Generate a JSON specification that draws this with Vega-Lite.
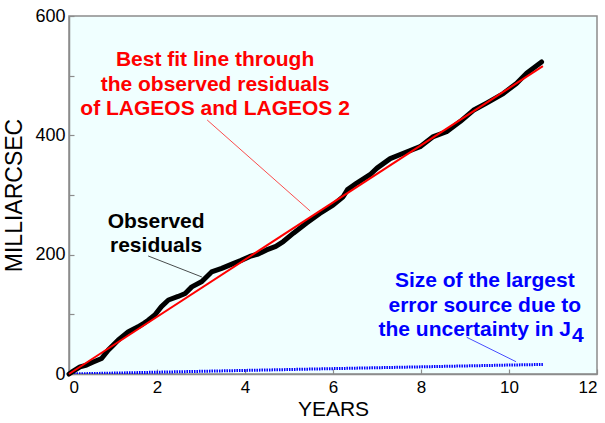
{
  "$schema": "https://vega.github.io/schema/vega-lite/v6.json",
  "width": 528,
  "height": 358,
  "autosize": {"type": "none"},
  "padding": {"left": 69, "top": 16, "right": 8, "bottom": 49},
  "background": "white",
  "config": {
    "view": {"fill": "#f0ffff", "stroke": "#8c8c8c", "strokeWidth": 1.5},
    "font": "Liberation Sans",
    "axis": {
      "grid": false,
      "domainColor": "#8c8c8c",
      "domainWidth": 1.5,
      "tickColor": "#8c8c8c",
      "tickWidth": 1.2,
      "labelFont": "Liberation Sans",
      "titleFont": "Liberation Sans",
      "labelColor": "black",
      "titleColor": "black",
      "labelFontSize": 18,
      "titleFontSize": 21,
      "titleFontWeight": "normal"
    }
  },
  "datasets": {
    "obs": [
      {"t": 0, "v": 0}, {"t": 0.06, "v": 3}, {"t": 0.25, "v": 12}, {"t": 0.4, "v": 15}, {"t": 0.55, "v": 20},
      {"t": 0.74, "v": 26}, {"t": 0.89, "v": 40}, {"t": 1.0, "v": 48}, {"t": 1.12, "v": 57}, {"t": 1.35, "v": 71},
      {"t": 1.57, "v": 79}, {"t": 1.7, "v": 85}, {"t": 1.8, "v": 90}, {"t": 1.95, "v": 99}, {"t": 2.1, "v": 113},
      {"t": 2.26, "v": 124}, {"t": 2.48, "v": 130}, {"t": 2.64, "v": 135}, {"t": 2.79, "v": 146},
      {"t": 3.02, "v": 155}, {"t": 3.24, "v": 171}, {"t": 3.47, "v": 177}, {"t": 3.73, "v": 185},
      {"t": 3.9, "v": 190}, {"t": 4.11, "v": 197}, {"t": 4.3, "v": 201}, {"t": 4.49, "v": 208}, {"t": 4.7, "v": 214},
      {"t": 4.87, "v": 222}, {"t": 5.1, "v": 236},
      {"t": 5.4, "v": 253}, {"t": 5.7, "v": 269}, {"t": 6.0, "v": 283}, {"t": 6.23, "v": 297},
      {"t": 6.33, "v": 309}, {"t": 6.54, "v": 320}, {"t": 6.84, "v": 334}, {"t": 7.0, "v": 345},
      {"t": 7.3, "v": 361}, {"t": 7.6, "v": 370}, {"t": 7.98, "v": 381}, {"t": 8.28, "v": 398},
      {"t": 8.58, "v": 406}, {"t": 8.89, "v": 423}, {"t": 9.19, "v": 442}, {"t": 9.49, "v": 454},
      {"t": 9.87, "v": 470}, {"t": 10.17, "v": 487}, {"t": 10.4, "v": 504}, {"t": 10.74, "v": 523}
    ],
    "fit": [{"t": 0, "v": 0}, {"t": 10.77, "v": 516}],
    "j4": [
      {"t": 0, "v": 0}, {"t": 1, "v": 1.5}, {"t": 2, "v": 3}, {"t": 3, "v": 4.5},
      {"t": 4, "v": 6}, {"t": 5, "v": 7.5}, {"t": 6, "v": 9}, {"t": 7, "v": 10.5},
      {"t": 8, "v": 12}, {"t": 9, "v": 13.5}, {"t": 10, "v": 15}, {"t": 10.77, "v": 16}
    ],
    "leaders": [
      {"x1": 3.14, "y1": 425.7, "x2": 5.48, "y2": 273.2, "c": "red"},
      {"x1": 1.8, "y1": 197.8, "x2": 3.02, "y2": 162.6, "c": "black"},
      {"x1": 9.04, "y1": 61.5, "x2": 10.16, "y2": 20.6, "c": "blue"}
    ],
    "labels": [
      {"x": 3.32, "y": 516, "txt": "Best fit line through", "c": "red"},
      {"x": 3.32, "y": 474, "txt": "the observed residuals", "c": "red"},
      {"x": 3.32, "y": 434, "txt": "of LAGEOS and LAGEOS 2", "c": "red"},
      {"x": 1.98, "y": 245, "txt": "Observed", "c": "black"},
      {"x": 1.98, "y": 204, "txt": "residuals", "c": "black"},
      {"x": 9.45, "y": 146, "txt": "Size of the largest", "c": "blue"},
      {"x": 9.45, "y": 104, "txt": "error source due to", "c": "blue"}
    ],
    "rlabels": [
      {"x": 11.41, "y": 63.7, "txt": "the uncertainty in J", "c": "blue"}
    ],
    "sub": [
      {"x": 11.43, "y": 54, "txt": "4", "c": "blue"}
    ]
  },
  "layer": [
    {
      "data": {"name": "j4"},
      "mark": {"type": "line", "color": "#0000ff", "strokeWidth": 3, "strokeDash": [1.5, 1], "clip": true},
      "encoding": {
        "x": {"field": "t", "type": "quantitative", "scale": {"domain": [0, 12], "nice": false},
          "axis": {"values": [0, 2, 4, 6, 8, 10, 12], "title": "YEARS", "labelFontSize": 17, "tickSize": -5, "labelPadding": 10, "titlePadding": 3}},
        "y": {"field": "v", "type": "quantitative", "scale": {"domain": [0, 600], "nice": false},
          "axis": {"values": [0, 100, 200, 300, 400, 500, 600], "labelExpr": "datum.value % 200 == 0 ? datum.label : ''", "title": "MILLIARCSEC", "titleFontSize": 23, "tickSize": -5, "labelPadding": 9, "titlePadding": 8}}
      }
    },
    {
      "data": {"name": "obs"},
      "mark": {"type": "line", "color": "black", "strokeWidth": 5, "strokeJoin": "round", "strokeCap": "round"},
      "encoding": {
        "x": {"field": "t", "type": "quantitative"},
        "y": {"field": "v", "type": "quantitative"}
      }
    },
    {
      "data": {"name": "fit"},
      "mark": {"type": "line", "color": "#ff0000", "strokeWidth": 2},
      "encoding": {
        "x": {"field": "t", "type": "quantitative"},
        "y": {"field": "v", "type": "quantitative"}
      }
    },
    {
      "data": {"name": "leaders"},
      "mark": {"type": "rule", "strokeWidth": 1, "opacity": 0.7},
      "encoding": {
        "x": {"field": "x1", "type": "quantitative"},
        "x2": {"field": "x2"},
        "y": {"field": "y1", "type": "quantitative"},
        "y2": {"field": "y2"},
        "color": {"field": "c", "type": "nominal", "scale": null}
      }
    },
    {
      "data": {"name": "labels"},
      "mark": {"type": "text", "fontSize": 21, "fontWeight": "bold", "align": "center", "baseline": "alphabetic"},
      "encoding": {
        "x": {"field": "x", "type": "quantitative"},
        "y": {"field": "y", "type": "quantitative"},
        "text": {"field": "txt"},
        "color": {"field": "c", "type": "nominal", "scale": null}
      }
    },
    {
      "data": {"name": "rlabels"},
      "mark": {"type": "text", "fontSize": 21, "fontWeight": "bold", "align": "right", "baseline": "alphabetic"},
      "encoding": {
        "x": {"field": "x", "type": "quantitative"},
        "y": {"field": "y", "type": "quantitative"},
        "text": {"field": "txt"},
        "color": {"field": "c", "type": "nominal", "scale": null}
      }
    },
    {
      "data": {"name": "sub"},
      "mark": {"type": "text", "fontSize": 21, "fontWeight": "bold", "align": "left", "baseline": "alphabetic"},
      "encoding": {
        "x": {"field": "x", "type": "quantitative"},
        "y": {"field": "y", "type": "quantitative"},
        "text": {"field": "txt"},
        "color": {"field": "c", "type": "nominal", "scale": null}
      }
    }
  ]
}
